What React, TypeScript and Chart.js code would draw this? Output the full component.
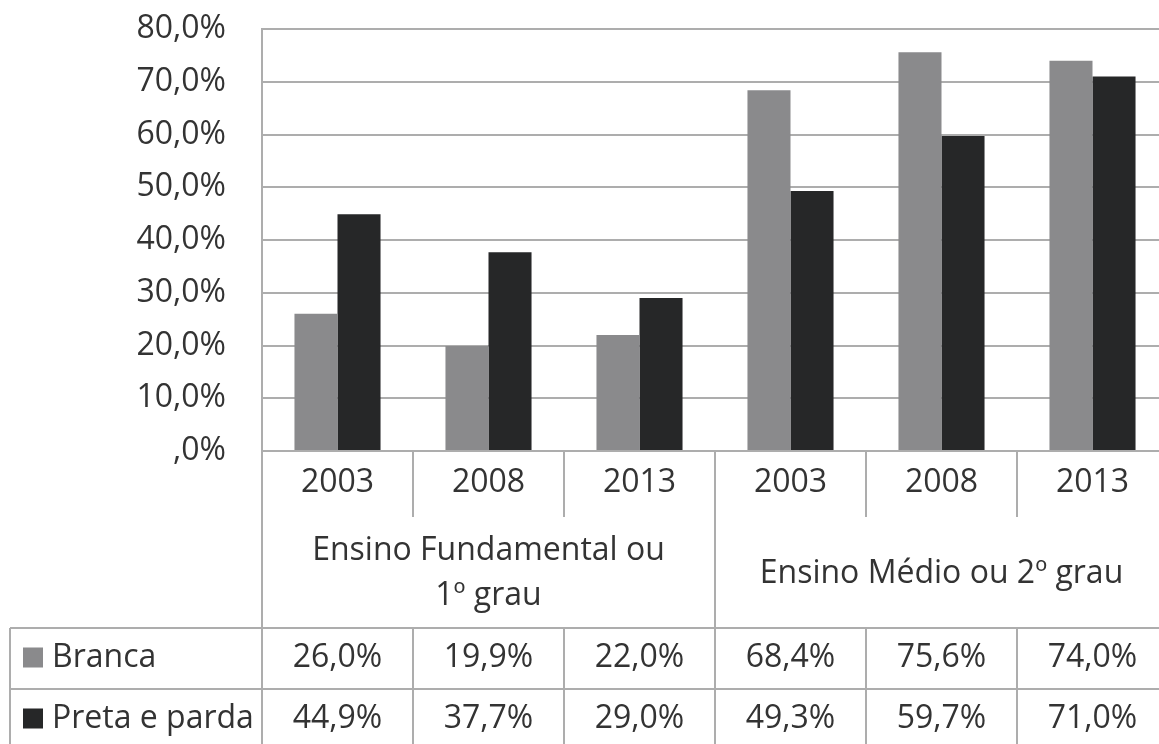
import React, { useEffect, useRef } from "react";
import { Chart, registerables } from "chart.js";

Chart.register(...registerables);

const years = ["2003", "2008", "2013", "2003", "2008", "2013"];
const groupLabels = [["Ensino Fundamental ou", "1º grau"], ["Ensino Médio ou 2º grau"]];
const groupSpans = [3, 3];
const seriesNames = ["Branca", "Preta e parda"];
const branca = [26.0, 19.9, 22.0, 68.4, 75.6, 74.0];
const preta = [44.9, 37.7, 29.0, 49.3, 59.7, 71.0];
const yTicks = [0, 10, 20, 30, 40, 50, 60, 70, 80];

const COLORS = ["#8a8a8c", "#262728"];
const LINE = "#adadad";
const TEXT = "#333333";
const FONT = "32px 'Open Sans'";

const fmt = (v: number) => (v === 0 ? ",0%" : v.toFixed(1).replace(".", ",") + "%");

const tablePlugin = {
  id: "dataTable",
  afterDraw(chart: any) {
    const ctx = chart.ctx as CanvasRenderingContext2D;
    const area = chart.chartArea;
    const x = chart.scales.x;
    const n = years.length;
    const w = (area.right - area.left) / n;
    const bottom = area.bottom;
    const yearRowBottom = bottom + 66;
    const tableTop = bottom + 177;
    const rowH = 61;
    const tableBottom = chart.height + 10;
    const tableLeft = 10;

    ctx.save();
    ctx.strokeStyle = LINE;
    ctx.lineWidth = 2;
    const line = (x1: number, y1: number, x2: number, y2: number) => {
      ctx.beginPath();
      ctx.moveTo(x1, y1);
      ctx.lineTo(x2, y2);
      ctx.stroke();
    };
    line(area.left, bottom, area.left, tableBottom);
    let acc = 0;
    const groupBounds = new Set<number>();
    groupSpans.forEach((s) => {
      acc += s;
      groupBounds.add(acc);
    });
    for (let i = 1; i < n; i++) {
      const bx = area.left + i * w;
      if (groupBounds.has(i)) {
        line(bx, bottom, bx, tableBottom);
      } else {
        line(bx, bottom, bx, yearRowBottom);
        line(bx, tableTop, bx, tableBottom);
      }
    }
    line(tableLeft, tableTop, chart.width, tableTop);
    line(tableLeft, tableTop + rowH, chart.width, tableTop + rowH);
    line(tableLeft, tableTop, tableLeft, tableBottom);

    ctx.fillStyle = TEXT;
    ctx.font = FONT;
    ctx.textAlign = "center";
    ctx.textBaseline = "middle";
    years.forEach((yr, i) => {
      ctx.fillText(yr, x.getPixelForValue(i), bottom + 32);
    });
    let start = 0;
    groupLabels.forEach((lines, gi) => {
      const span = groupSpans[gi];
      const cx = area.left + (start + span / 2) * w;
      const cy = (yearRowBottom + tableTop) / 2 + 1;
      const lh = 45;
      lines.forEach((t, li) => {
        const ly = cy + (li - (lines.length - 1) / 2) * lh;
        ctx.fillText(t, cx, ly);
      });
      start += span;
    });
    const rows = [branca, preta];
    rows.forEach((vals, ri) => {
      const cy = tableTop + rowH * ri + rowH / 2 - 1;
      ctx.fillStyle = COLORS[ri];
      ctx.fillRect(23, cy - 10, 20, 20);
      ctx.fillStyle = TEXT;
      ctx.textAlign = "left";
      ctx.fillText(seriesNames[ri], 52, cy);
      ctx.textAlign = "center";
      vals.forEach((v, i) => {
        ctx.fillText(fmt(v), x.getPixelForValue(i), cy);
      });
    });
    ctx.restore();
  },
};

export default function App() {
  const ref = useRef<HTMLCanvasElement>(null);
  useEffect(() => {
    document.body.style.margin = "0";
    const chart = new Chart(ref.current!, {
      type: "bar",
      data: {
        labels: years.map((y, i) => `${y}-${i}`),
        datasets: [
          { label: seriesNames[0], data: branca, backgroundColor: COLORS[0], borderWidth: 0 },
          { label: seriesNames[1], data: preta, backgroundColor: COLORS[1], borderWidth: 0 },
        ],
      },
      options: {
        animation: false,
        responsive: false,
        maintainAspectRatio: false,
        layout: { padding: { top: 29, bottom: 293, left: 0, right: 0 } },
        datasets: { bar: { categoryPercentage: 0.57, barPercentage: 1 } },
        plugins: { legend: { display: false }, tooltip: { enabled: false } },
        scales: {
          x: { display: false },
          y: {
            min: 0,
            max: 80,
            afterFit: (s: any) => {
              s.width = 262;
              s.paddingTop = 0;
              s.paddingBottom = 0;
            },
            afterBuildTicks: (s: any) => {
              s.ticks = yTicks.map((v) => ({ value: v }));
            },
            border: { display: true, color: LINE, width: 2 },
            grid: { color: LINE, lineWidth: 2, drawTicks: false },
            ticks: {
              padding: 36,
              color: TEXT,
              font: { family: "'Open Sans'", size: 32 },
              callback: (v: any) => fmt(Number(v)),
            },
          },
        },
      },
      plugins: [tablePlugin],
    });
    return () => chart.destroy();
  }, []);
  return (
    <div
      style={{
        position: "fixed",
        left: 0,
        top: 0,
        width: 1159,
        height: 744,
        overflow: "hidden",
        background: "#fff",
      }}
    >
      <canvas ref={ref} width={1168} height={744} style={{ width: 1168, height: 744, display: "block" }} />
    </div>
  );
}
